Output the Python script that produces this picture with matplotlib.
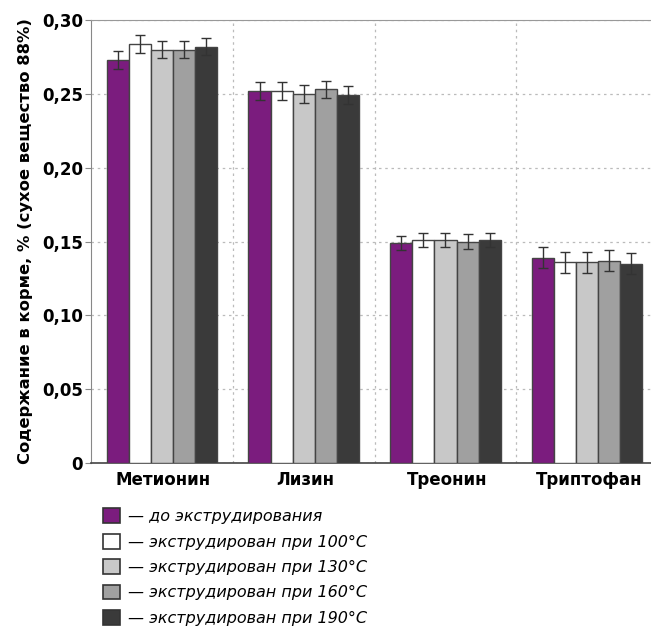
import matplotlib
matplotlib.use('Agg')
import matplotlib.pyplot as plt
import numpy as np
from matplotlib.patches import Patch

# данные
amino = ["Метионин", "Лизин", "Треонин", "Триптофан"]
series = ["до экструдирования", "экструдирован при 100°C", "экструдирован при 130°C",
          "экструдирован при 160°C", "экструдирован при 190°C"]
values = [
    [0.273, 0.252, 0.149, 0.139],
    [0.284, 0.252, 0.151, 0.136],
    [0.280, 0.250, 0.151, 0.136],
    [0.280, 0.253, 0.150, 0.137],
    [0.282, 0.249, 0.151, 0.135],
]
errors = [
    [0.006, 0.006, 0.005, 0.007],
    [0.006, 0.006, 0.005, 0.007],
    [0.006, 0.006, 0.005, 0.007],
    [0.006, 0.006, 0.005, 0.007],
    [0.006, 0.006, 0.005, 0.007],
]
colors = ["#7B1C7E", "#FFFFFF", "#C8C8C8", "#A0A0A0", "#3A3A3A"]

plt.rcParams['font.family'] = ['DejaVu Sans']

fig = plt.figure(figsize=(6.51, 6.26), dpi=100)
ax = fig.add_axes([0.14, 0.2604, 0.86, 0.7076])

x = np.arange(len(amino))
w = 0.156
for i, (vals, errs, c) in enumerate(zip(values, errors, colors)):
    pos = x + (i - 2) * w
    ax.bar(pos, vals, width=w, color=c, edgecolor="#444444", linewidth=1.0, zorder=3)
    ax.errorbar(pos, vals, yerr=errs, fmt='none', ecolor="#333333", elinewidth=1.0,
                capsize=3.5, capthick=1.0, zorder=4)

ax.set_xlim(-0.5, 3.45)
ax.set_ylim(0, 0.30)
ax.set_yticks(np.arange(0, 0.301, 0.05))
ax.set_yticklabels(["0", "0,05", "0,10", "0,15", "0,20", "0,25", "0,30"],
                   fontsize=12, fontweight='bold')
ax.set_xticks(x + 0.01)
ax.set_xticklabels(amino, fontsize=12, fontweight='bold')
ax.tick_params(axis='x', length=0, pad=6)
ax.tick_params(axis='y', length=4, color="#888888", pad=2)
ax.set_xticks([0.5, 1.5, 2.5], minor=True)
ax.tick_params(axis='x', which='minor', length=0)

ax.grid(axis='y', which='major', linestyle=(0, (2, 3)), color="#BBBBBB", linewidth=0.9, zorder=0)
ax.grid(axis='x', which='minor', linestyle=(0, (2, 3)), color="#BBBBBB", linewidth=0.9, zorder=0)

ax.spines['right'].set_visible(False)
ax.spines['top'].set_color("#999999")
ax.spines['left'].set_color("#888888")
ax.spines['bottom'].set_color("#444444")
ax.spines['bottom'].set_linewidth(1.2)

ax.set_ylabel("Содержание в корме, % (сухое вещество 88%)", fontsize=11.8,
              fontweight='bold', labelpad=6)

handles = [Patch(facecolor=c, edgecolor="#333333", linewidth=1.2) for c in colors]
labels = ["— " + s for s in series]
fig.legend(handles, labels, loc='upper left', bbox_to_anchor=(0.158, 0.188),
           frameon=False, prop={'style': 'italic', 'size': 11.5},
           handlelength=1.05, handleheight=1.05, handletextpad=0.55, labelspacing=0.6,
           borderaxespad=0, borderpad=0)

plt.savefig("out.png", dpi=100, facecolor='white')
